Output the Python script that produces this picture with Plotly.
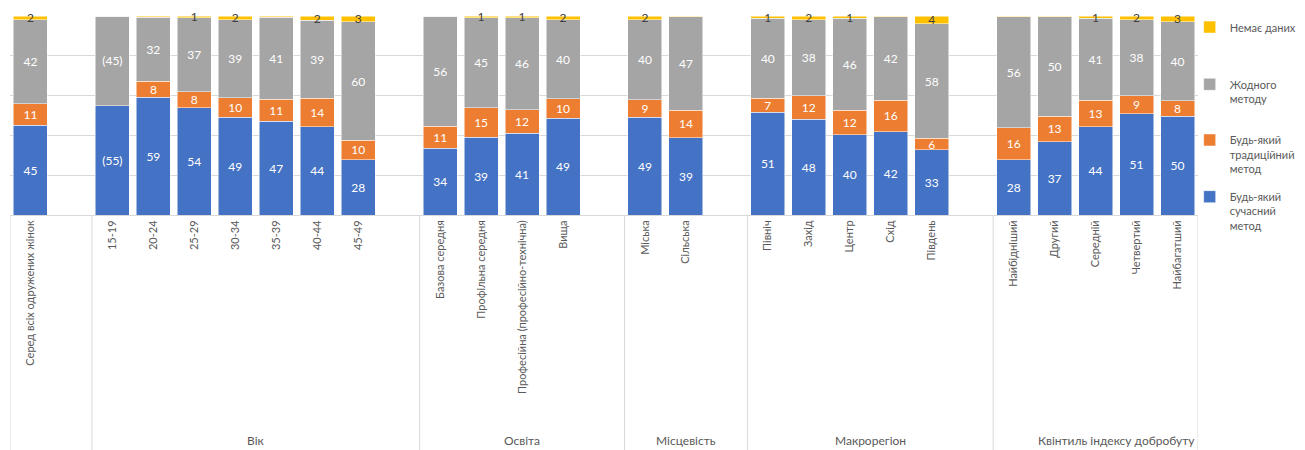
import plotly.graph_objects as go

# groups and their categories (first group has no title)
groups = ["", "Вік", "Освіта", "Місцевість", "Макрорегіон", "Квінтиль індексу добробуту"]
categories = [
    ["Серед всіх одружених жінок"],
    ["15-19", "20-24", "25-29", "30-34", "35-39", "40-44", "45-49"],
    ["Базова середня", "Профільна середня", "Професійна (професійно-технічна)", "Вища"],
    ["Міська", "Сільська"],
    ["Північ", "Захід", "Центр", "Схід", "Південь"],
    ["Найбідніший", "Другий", "Середній", "Четвертий", "Найбагатший"],
]

modern = [45, 55, 59, 54, 49, 47, 44, 28, 34, 39, 41, 49, 49, 39, 51, 48, 40, 42, 33, 28, 37, 44, 51, 50]
traditional = [11, 0, 8, 8, 10, 11, 14, 10, 11, 15, 12, 10, 9, 14, 7, 12, 12, 16, 6, 16, 13, 13, 9, 8]
none_method = [42, 45, 32, 37, 39, 41, 39, 60, 56, 45, 46, 40, 40, 47, 40, 38, 46, 42, 58, 56, 50, 41, 38, 40]
no_data = [2, 0, 0.6, 1, 2, 0.6, 2, 3, 0, 1, 1, 2, 2, 0.5, 1, 2, 1, 0.5, 4, 0.5, 0.5, 1, 2, 3]

modern_lbl = ["45", "(55)", "59", "54", "49", "47", "44", "28", "34", "39", "41", "49", "49", "39",
              "51", "48", "40", "42", "33", "28", "37", "44", "51", "50"]
traditional_lbl = ["11", "", "8", "8", "10", "11", "14", "10", "11", "15", "12", "10", "9", "14",
                   "7", "12", "12", "16", "6", "16", "13", "13", "9", "8"]
none_lbl = ["42", "(45)", "32", "37", "39", "41", "39", "60", "56", "45", "46", "40", "40", "47",
            "40", "38", "46", "42", "58", "56", "50", "41", "38", "40"]
no_data_lbl = ["2", "", "", "1", "2", "", "2", "3", "", "1", "1", "2", "2", "",
               "1", "2", "1", "", "4", "", "", "1", "2", "3"]

# slot positions: one empty slot after each group
xpos, labels, group_mid, dividers = [], [], [], [-0.5]
pos = 0
for cats in categories:
    start = pos
    for c in cats:
        xpos.append(pos)
        labels.append(c)
        pos += 1
    pos += 1
    dividers.append(pos - 0.5)
    group_mid.append((start - 0.5 + pos - 0.5) / 2)
dividers[-1] = pos - 1.5  # no empty slot after the last group

font = "Lato"
txt_col = "#595959"

# the page body adds 8px around the figure
W, H = 1297, 442
plot_h = 199

series = [
    ("Будь-який<br>сучасний<br>метод", modern, modern_lbl, "#4472C4", "white", "legend4"),
    ("Будь-який<br>традиційний<br>метод", traditional, traditional_lbl, "#ED7D31", "white", "legend3"),
    ("Жодного<br>методу", none_method, none_lbl, "#A5A5A5", "white", "legend2"),
    ("Немає даних", no_data, no_data_lbl, "#FFC000", "#404040", "legend"),
]

fig = go.Figure()
for name, vals, lbl, col, tcol, leg in series:
    fig.add_trace(go.Bar(
        x=xpos, y=vals, name=name, text=lbl, texttemplate="%{text}",
        textposition="inside", insidetextanchor="middle", textangle=0,
        textfont=dict(color=tcol, size=12, family=font),
        marker=dict(color=col, line=dict(color="white", width=0.5)),
        legend=leg, showlegend=True, cliponaxis=False,
    ))

for d in dividers:
    fig.add_shape(type="line", xref="x", yref="paper", x0=d, x1=d, y0=0, y1=-(H - 8 - plot_h) / plot_h,
                  line=dict(color="#D9D9D9", width=1))

for g, m in zip(groups, group_mid):
    if g:
        fig.add_annotation(x=m, y=-225 / plot_h, xref="x", yref="paper", text=g, yanchor="middle",
                           showarrow=False, font=dict(size=12, color=txt_col, family=font))

leg_style = dict(x=0.993, xanchor="left", yanchor="middle", valign="top",
                 font=dict(size=11, color=txt_col, family=font), bgcolor="rgba(0,0,0,0)")

fig.update_layout(
    width=W, height=H, showlegend=True,
    barmode="stack", barnorm="percent", bargap=0.17,
    margin=dict(l=2, r=W - 2 - 1188, t=8, b=H - 8 - plot_h, autoexpand=False),
    plot_bgcolor="white", paper_bgcolor="white",
    font=dict(family=font, color=txt_col),
    uniformtext=dict(minsize=12, mode="show"),
    legend=dict(y=0.94, **leg_style),
    legend2=dict(y=0.62, **leg_style),
    legend3=dict(y=0.305, **leg_style),
    legend4=dict(y=0.02, **leg_style),
    xaxis=dict(range=[-0.5, pos - 1.5], tickvals=xpos, ticktext=labels, tickangle=-90,
               tickfont=dict(size=11, color=txt_col, family=font), showgrid=False,
               showline=True, linecolor="#D9D9D9", ticks="", automargin=False),
    yaxis=dict(range=[0, 100], dtick=20, showticklabels=False, gridcolor="#D9D9D9",
               zeroline=False, automargin=False),
)

fig.write_html("out.html")
